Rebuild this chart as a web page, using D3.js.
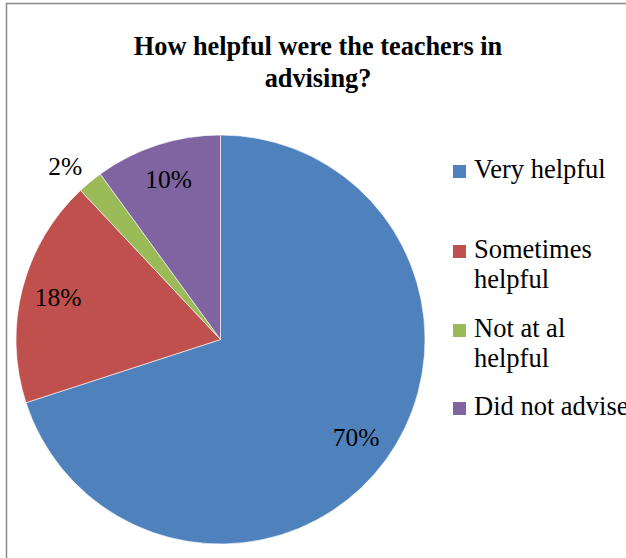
<!DOCTYPE html>
<html>
<head>
<meta charset="utf-8">
<script src="https://cdn.jsdelivr.net/npm/d3@7"></script>
<style>
  body { margin: 0; background: #fff; }
</style>
</head>
<body>
<div id="chart"></div>
<script>
var width = 626;
var height = 558;
var serif = "'Liberation Serif', 'DejaVu Serif', serif";

// chart data
var categories = ["Very helpful", "Sometimes helpful", "Not at al helpful", "Did not advise"];
var legendLines = [["Very helpful"], ["Sometimes", "helpful"], ["Not at al", "helpful"], ["Did not advise"]];
var values = [70, 18, 2, 10];
var colors = ["#4F81BD", "#C0504D", "#9BBB59", "#8064A2"];
var titleLines = ["How helpful were the teachers in", "advising?"];

var cx = 220.5, cy = 339.5, radius = 204.5;

var svg = d3.select("#chart").append("svg")
    .attr("width", width)
    .attr("height", height)
    .attr("font-family", serif);

// chart frame (runs off the right and bottom)
svg.append("rect")
    .attr("x", 6.5).attr("y", 3.5)
    .attr("width", width + 20).attr("height", height + 20)
    .attr("fill", "none")
    .attr("stroke", "#8a8a8a")
    .attr("stroke-width", 1.5);

// title
svg.append("g").selectAll("text")
    .data(titleLines)
  .enter().append("text")
    .attr("x", 318)
    .attr("y", (d, i) => 55 + i * 32)
    .attr("text-anchor", "middle")
    .attr("font-size", 26.3)
    .attr("font-weight", "bold")
    .text(d => d);

var pie = d3.pie().sort(null).value(d => d);
var arcs = pie(values);
var arc = d3.arc().innerRadius(0).outerRadius(radius);

var g = svg.append("g").attr("transform", "translate(" + cx + "," + cy + ")");

g.selectAll("path")
    .data(arcs)
  .enter().append("path")
    .attr("d", arc)
    .attr("fill", (d, i) => colors[i])
    .attr("stroke", "#fff")
    .attr("stroke-width", 0.6);

// labels: inside at 0.82R, tiny slices pushed outside the rim
function isSmall(d) { return (d.endAngle - d.startAngle) < 0.2; }
function labelPos(d) {
  var a = (d.startAngle + d.endAngle) / 2;
  var r = isSmall(d) ? radius * 1.06 : radius * 0.82;
  return [Math.sin(a) * r, -Math.cos(a) * r];
}

g.selectAll("text.lbl")
    .data(arcs)
  .enter().append("text")
    .attr("class", "lbl")
    .attr("x", d => labelPos(d)[0])
    .attr("y", d => labelPos(d)[1] + (isSmall(d) ? 2.5 : 8))
    .attr("text-anchor", d => isSmall(d) ? "end" : "middle")
    .attr("font-size", 25.5)
    .attr("fill", "#000")
    .text(d => d.data + "%");

// legend
var legendY = [178, 258, 337, 415];
var legend = svg.append("g").selectAll("g")
    .data(categories)
  .enter().append("g")
    .attr("transform", (d, i) => "translate(453," + legendY[i] + ")");

legend.append("rect")
    .attr("x", 0).attr("y", -13)
    .attr("width", 13).attr("height", 13)
    .attr("fill", (d, i) => colors[i]);

legend.append("text")
    .attr("x", 21)
    .attr("y", 0)
    .attr("font-size", 26.5)
    .selectAll("tspan")
    .data((d, i) => legendLines[i])
  .enter().append("tspan")
    .attr("x", 21)
    .attr("dy", (d, j) => j === 0 ? 0 : 29.5)
    .text(d => d);
</script>
</body>
</html>
